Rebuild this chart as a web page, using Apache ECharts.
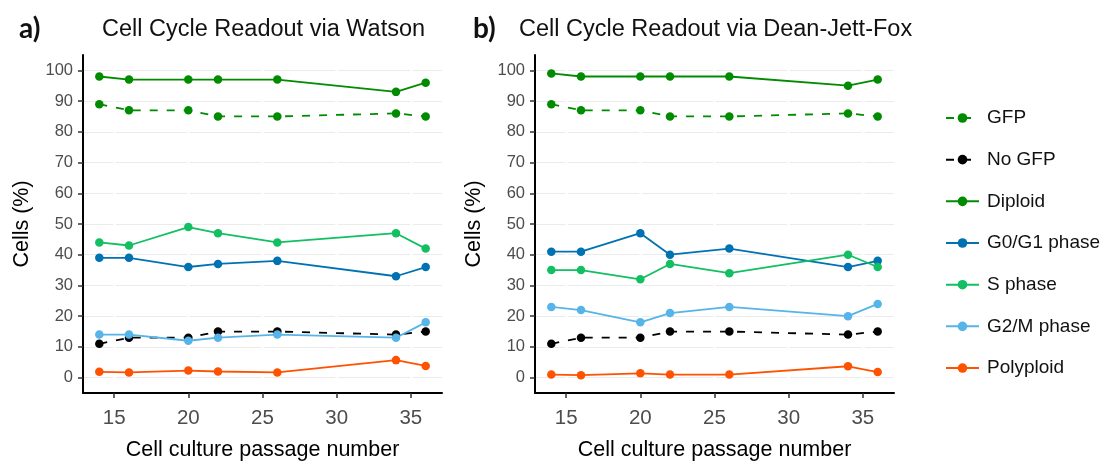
<!DOCTYPE html>
<html>
<head>
<meta charset="utf-8">
<script src="https://cdn.jsdelivr.net/npm/echarts@6/dist/echarts.min.js"></script>
<style>
  html, body { margin: 0; padding: 0; background: #ffffff; }
  #chart { width: 1108px; height: 466px; }
</style>
</head>
<body>
<div id="chart"></div>
<script>
// Passage numbers sampled
const passages = [14, 16, 20, 22, 26, 34, 36];

// Panel a: Watson model readout (% cells)
const watsonGFP       = [89, 87, 87, 85, 85, 86, 85];
const watsonNoGFP     = [11, 13, 13, 15, 15, 14, 15];
const watsonDiploid   = [98, 97, 97, 97, 97, 93, 96];
const watsonG0G1      = [39, 39, 36, 37, 38, 33, 36];
const watsonS         = [44, 43, 49, 47, 44, 47, 42];
const watsonG2M       = [14, 14, 12, 13, 14, 13, 18];
const watsonPolyploid = [1.9, 1.7, 2.3, 2.0, 1.7, 5.7, 3.8];

// Panel b: Dean-Jett-Fox model readout (% cells)
const djfGFP       = [89, 87, 87, 85, 85, 86, 85];
const djfNoGFP     = [11, 13, 13, 15, 15, 14, 15];
const djfDiploid   = [99, 98, 98, 98, 98, 95, 97];
const djfG0G1      = [41, 41, 47, 40, 42, 36, 38];
const djfS         = [35, 35, 32, 37, 34, 40, 36];
const djfG2M       = [23, 22, 18, 21, 23, 20, 24];
const djfPolyploid = [1.0, 0.8, 1.4, 1.0, 1.0, 3.7, 1.8];

// Axis ticks
const xTicks = [15, 20, 25, 30, 35];
const yTicks = [0, 10, 20, 30, 40, 50, 60, 70, 80, 90, 100];

const seriesNames = ['GFP', 'No GFP', 'Diploid', 'G0/G1 phase', 'S phase', 'G2/M phase', 'Polyploid'];
const seriesColors = ['#008B00', '#000000', '#008B00', '#0072B2', '#12BF62', '#56B4E9', '#FF5200'];
const seriesDashed = [true, true, false, false, false, false, false];

const panelData = [
  [watsonGFP, watsonNoGFP, watsonDiploid, watsonG0G1, watsonS, watsonG2M, watsonPolyploid],
  [djfGFP, djfNoGFP, djfDiploid, djfG0G1, djfS, djfG2M, djfPolyploid]
];

const panelLefts = [83, 535];
const panelWidth = 359;

const grids = panelLefts.map(l => ({ left: l, top: 55, width: panelWidth, height: 345, containLabel: false }));

const axisFont = 'Liberation Sans, Arial, sans-serif';

const xAxes = panelLefts.map((_, i) => ({
  type: 'value', gridIndex: i, min: 12.9, max: 37.1,
  name: 'Cell culture passage number', nameLocation: 'middle', nameGap: 46,
  nameTextStyle: { fontSize: 21.5, color: '#000', fontFamily: axisFont },
  axisLine: { show: true, onZero: false, lineStyle: { color: '#000', width: 2 } },
  axisTick: { show: true, length: 5, customValues: xTicks, lineStyle: { color: '#333', width: 1.5 } },
  axisLabel: { customValues: xTicks, fontSize: 20.5, color: '#4d4d4d', margin: 15, fontFamily: axisFont },
  splitLine: { show: true, lineStyle: { color: '#ffffff', width: 2.5 } }
}));

const yAxes = panelLefts.map((_, i) => ({
  type: 'value', gridIndex: i, min: -5, max: 105,
  name: 'Cells (%)', nameLocation: 'middle', nameGap: 50,
  nameTextStyle: { fontSize: 21.5, color: '#000', fontFamily: axisFont },
  axisLine: { show: true, onZero: false, lineStyle: { color: '#000', width: 2 } },
  axisTick: { show: true, length: 5, customValues: yTicks, lineStyle: { color: '#333', width: 1.5 } },
  axisLabel: { customValues: yTicks, fontSize: 16.5, color: '#4d4d4d', margin: 10, fontFamily: axisFont },
  splitLine: { show: true, lineStyle: { color: '#ebebeb', width: 1 } }
}));

const series = [];
panelData.forEach((groups, p) => {
  groups.forEach((vals, k) => {
    series.push({
      name: seriesNames[k],
      type: 'line',
      xAxisIndex: p, yAxisIndex: p,
      data: passages.map((x, j) => [x, vals[j]]),
      symbol: 'circle', symbolSize: 8.5,
      showSymbol: true,
      color: seriesColors[k],
      itemStyle: { color: seriesColors[k] },
      lineStyle: { color: seriesColors[k], width: 1.8, type: seriesDashed[k] ? [8, 9] : 'solid' },
      emphasis: { disabled: true },
      animation: false,
      z: 3 + k
    });
  });
});

const option = {
  backgroundColor: '#ffffff',
  animation: false,
  title: [
    { text: 'a)', left: 14, top: 10, textStyle: { fontSize: 28, fontWeight: 'bold', color: '#111', fontFamily: 'Lato, sans-serif' } },
    { text: 'Cell Cycle Readout via Watson', left: 97, top: 13, textStyle: { fontSize: 23.5, fontWeight: 'normal', color: '#111', fontFamily: axisFont } },
    { text: 'b)', left: 468, top: 10, textStyle: { fontSize: 28, fontWeight: 'bold', color: '#111', fontFamily: 'Lato, sans-serif' } },
    { text: 'Cell Cycle Readout via Dean-Jett-Fox', left: 514, top: 13, textStyle: { fontSize: 23.5, fontWeight: 'normal', color: '#111', fontFamily: axisFont } }
  ],
  legend: {
    orient: 'vertical', left: 940, top: 103,
    data: seriesNames,
    itemWidth: 33, itemHeight: 12, itemGap: 21.67,
    textStyle: { fontSize: 19, color: '#111', fontFamily: axisFont, lineHeight: 20, padding: [0, 0, 0, 3] },
    selectedMode: false
  },
  grid: grids,
  xAxis: xAxes,
  yAxis: yAxes,
  series: series
};

const chart = echarts.init(document.getElementById('chart'), null, { renderer: 'canvas' });
chart.setOption(option);
</script>
</body>
</html>
